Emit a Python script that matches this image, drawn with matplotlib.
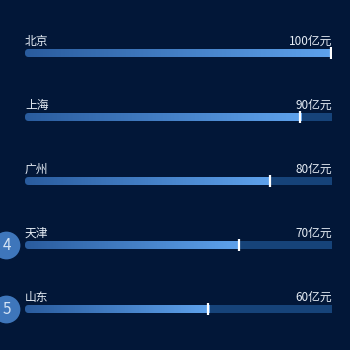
import numpy as np
import matplotlib
matplotlib.use("Agg")
import matplotlib.pyplot as plt
from matplotlib.colors import LinearSegmentedColormap
from matplotlib.patches import FancyBboxPatch, Rectangle

plt.rcParams["font.family"] = ["Noto Sans CJK SC", "DejaVu Sans"]

# data
cities = ["北京", "上海", "广州", "天津", "山东"]
values = [100, 90, 80, 70, 60]
ranks = [1, 2, 3, 4, 5]
unit = "亿元"
max_value = 100

bg = "#021738"
track_color = "#164379"
grad = LinearSegmentedColormap.from_list("bar", ["#2a5c9e", "#5ea2ec"])
badge_color = "#3e76bb"
text_color = "#e6edf5"

W, H = 350, 350
x0_px, x1_px = 25, 332
row0_px, row_step = 53, 64
bar_h = 8 / row_step

fig = plt.figure(figsize=(3.5, 3.5), dpi=100, facecolor=bg)
ax = fig.add_axes([x0_px / W, 0, (x1_px - x0_px) / W, 1])
ax.set_facecolor(bg)
ax.set_xlim(0, max_value)
ax.set_ylim((H - row0_px) / row_step, -row0_px / row_step)
ax.axis("off")

px_x = (x1_px - x0_px) / max_value  # pixels per value unit
aspect = px_x / row_step
r = 4 / px_x

for i, (city, v, rk) in enumerate(zip(cities, values, ranks)):
    # track
    trk = FancyBboxPatch((0, i - bar_h / 2), max_value + 3 * r, bar_h,
                         boxstyle=f"round,pad=0,rounding_size={r}",
                         mutation_aspect=aspect, transform=ax.transData,
                         facecolor="none", edgecolor="none")
    ax.add_patch(trk)
    rect = Rectangle((0, i - bar_h / 2), max_value, bar_h,
                     facecolor=track_color, edgecolor="none")
    ax.add_patch(rect)
    rect.set_clip_path(trk)

    # gradient bar
    clip = FancyBboxPatch((0, i - bar_h / 2), v + 3 * r, bar_h,
                          boxstyle=f"round,pad=0,rounding_size={r}",
                          mutation_aspect=aspect, transform=ax.transData,
                          facecolor="none", edgecolor="none")
    ax.add_patch(clip)
    im = ax.imshow(np.linspace(0, 1, 256)[None, :], cmap=grad, aspect="auto",
                   extent=[0, v, i + bar_h / 2, i - bar_h / 2],
                   interpolation="bilinear", zorder=2)
    im.set_clip_path(clip)

    # end marker
    ax.plot([v - 0.3, v - 0.3], [i - 6 / row_step, i + 6 / row_step],
            color="white", lw=1.6, solid_capstyle="butt", zorder=3)

    # labels
    ax.text(0, i - 5.5 / row_step, city, color=text_color, fontsize=8.5,
            ha="left", va="bottom")
    ax.text(max_value, i - 5.5 / row_step, f"{v}{unit}", color=text_color,
            fontsize=8.5, ha="right", va="bottom")

    # rank badge
    if rk > 3:
        ax.scatter([(6 - x0_px) / px_x], [i], s=400, color=badge_color,
                   clip_on=False, zorder=4, linewidths=0)
        ax.text((7 - x0_px) / px_x, i, str(rk), color="#d4e3f5", fontsize=11,
                ha="center", va="center", clip_on=False, zorder=5)

fig.savefig("out.png", dpi=100, facecolor=bg)
